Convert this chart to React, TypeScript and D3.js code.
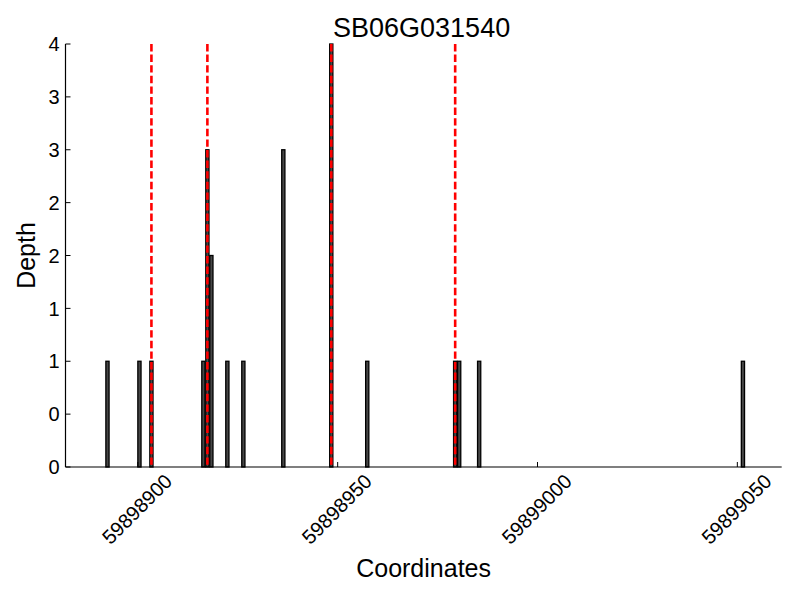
import React from "react";
import * as d3 from "d3";

const positions = [59898892, 59898900, 59898903, 59898916, 59898917, 59898918, 59898922, 59898926, 59898936, 59898948, 59898957, 59898979, 59898980, 59898985, 59899051];
const depths = [1, 1, 1, 1, 3, 2, 1, 1, 3, 4, 1, 1, 1, 1, 1];
const markers = [59898903, 59898917, 59898948, 59898979];
const xTicks = [59898900, 59898950, 59899000, 59899050];
const yTicks = [0, 0.5, 1, 1.5, 2, 2.5, 3, 3.5, 4];
const yTickLabels = ["0", "0", "1", "1", "2", "2", "3", "3", "4"];
const title = "SB06G031540";
const xLabel = "Coordinates";
const yLabel = "Depth";

const W = 800, H = 600;
const L = 65.5, R = 781.7, T = 44, B = 467;
const BAR_W = 0.8;
const FONT = "'Liberation Sans', Arial, sans-serif";

export default function App() {
  const xs = d3.scaleLinear().domain([59898881.9, 59899061.1]).range([L, R]);
  const ys = d3.scaleLinear().domain([0, 4]).range([B, T]);
  const line = d3.line<[number, number]>().x(d => d[0]).y(d => d[1]);
  return (
    <svg width={W} height={H} style={{ position: "absolute", left: 0, top: 0, background: "#fff" }} fontFamily={FONT}>
      <rect width={W} height={H} fill="#fff" />
      {positions.map((p, i) => (
        <rect key={i} x={xs(p)} width={xs(p + BAR_W) - xs(p)} y={ys(depths[i])} height={ys(0) - ys(depths[i])}
          fill="#474747" stroke="#000" strokeWidth={1.3} />
      ))}
      {markers.map((m, i) => (
        <path key={i} d={line([[xs(m + BAR_W / 2), ys(4)], [xs(m + BAR_W / 2), ys(0)]]) || ""}
          stroke="#ff0000" strokeWidth={2.6} strokeDasharray="7.4,3.2" fill="none" />
      ))}
      <line x1={L} x2={L} y1={T} y2={B} stroke="#000" strokeWidth={1.2} />
      <line x1={L} x2={R} y1={B} y2={B} stroke="#000" strokeWidth={1.2} />
      {yTicks.map((t, i) => (
        <g key={i}>
          <line x1={L} x2={L + 5} y1={ys(t)} y2={ys(t)} stroke="#000" strokeWidth={1} />
          <text x={L - 6} y={ys(t)} dy="0.36em" textAnchor="end" fontSize={20}>{yTickLabels[i]}</text>
        </g>
      ))}
      {xTicks.map((t, i) => (
        <g key={i}>
          <line x1={xs(t)} x2={xs(t)} y1={B} y2={B - 5} stroke="#000" strokeWidth={1} />
          <text transform={`translate(${xs(t) - 1},${509}) rotate(-45)`} textAnchor="middle" dy="0.36em" fontSize={20}>
            {d3.format("d")(t)}
          </text>
        </g>
      ))}
      <text x={(L + R) / 2 - 2} y={37} textAnchor="middle" fontSize={27}>{title}</text>
      <text x={(L + R) / 2} y={577} textAnchor="middle" fontSize={25}>{xLabel}</text>
      <text transform={`translate(${35},${(T + B) / 2}) rotate(-90)`} textAnchor="middle" fontSize={25}>{yLabel}</text>
    </svg>
  );
}
